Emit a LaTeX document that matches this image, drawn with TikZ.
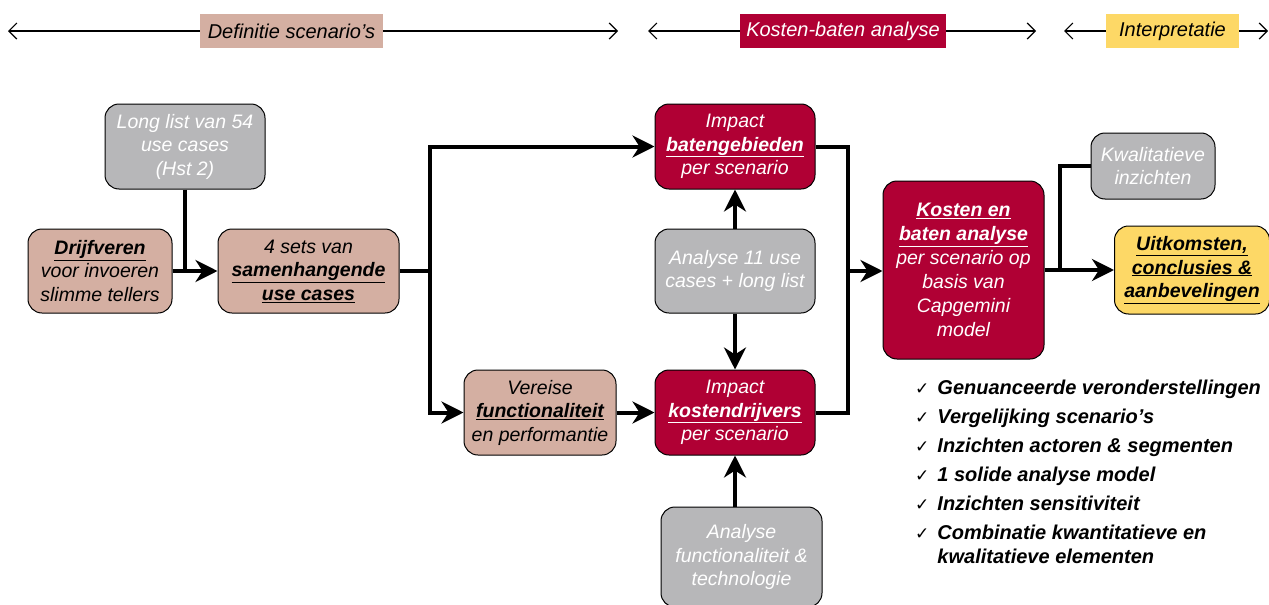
\documentclass[tikz,border=0pt]{standalone}
\usepackage{fontspec}
\setmainfont{Liberation Sans}
\newfontfamily\dejavu{DejaVu Sans}
\usetikzlibrary{arrows.meta}
\definecolor{mytan}{HTML}{D4AFA2}
\definecolor{mygray}{HTML}{B7B7B9}
\definecolor{myred}{HTML}{B00034}
\definecolor{myyellow}{HTML}{FDD866}
\newcommand\bu[1]{\underline{\textbf{#1}}}
\newcommand\ck{{\dejavu\mdseries\upshape\fontsize{17}{17}\selectfont ✓}}
\begin{document}
\begin{tikzpicture}[x=1pt,y=-1pt,
  box/.style={draw=black, line width=1pt, rounded corners=14pt, align=center, inner sep=0pt, font=\fontsize{19.5}{23.5}\selectfont\itshape},
  tanbox/.style={box, fill=mytan, text=black},
  graybox/.style={box, fill=mygray, text=white},
  redbox/.style={box, fill=myred, text=white},
  yellowbox/.style={box, fill=myyellow, text=black},
  conn/.style={line width=4pt, line join=miter},
  arr/.style={conn, -{Stealth[length=22pt,width=22pt,inset=7pt]}},
  hline/.style={line width=1.2pt, -{Straight Barb[length=8pt,width=16pt]}},
  hlabel/.style={inner sep=0pt, minimum height=34pt, font=\fontsize{20}{22}\selectfont\itshape}
]
\useasboundingbox (0,0) rectangle (1269,605);

% header
\coordinate (h1l) at (8,31);
\coordinate (h1r) at (618,31);
\coordinate (h2l) at (648,31);
\coordinate (h2r) at (1036,31);
\coordinate (h3l) at (1064,31);
\coordinate (h3r) at (1268,31);
\node[hlabel, fill=mytan, minimum width=183pt] (hd1) at (291.5,31) {Definitie scenario's};
\node[hlabel, fill=myred, text=white, minimum width=206pt] (hd2) at (843,31) {Kosten-baten analyse};
\node[hlabel, fill=myyellow, minimum width=133pt] (hd3) at (1172.5,31) {Interpretatie};
\draw[hline] (hd1.west) -- (h1l);
\draw[hline] (hd1.east) -- (h1r);
\draw[hline] (hd2.west) -- (h2l);
\draw[hline] (hd2.east) -- (h2r);
\draw[hline] (hd3.west) -- (h3l);
\draw[hline] (hd3.east) -- (h3r);

% boxes
\node[graybox, minimum width=160pt, minimum height=85pt] (longlist) at (185,146.5) {Long list van 54\\use cases\\(Hst 2)};
\node[tanbox, minimum width=144pt, minimum height=84pt] (drijf) at (100,271) {\bu{Drijfveren}\\voor invoeren\\slimme tellers};
\node[tanbox, minimum width=181pt, minimum height=84pt] (sets) at (308.5,271) {4 sets van\\\bu{samenhangende}\\\bu{use cases}};
\node[redbox, minimum width=160pt, minimum height=85pt] (baten) at (735,146.5) {Impact\\\bu{batengebieden}\\per scenario};
\node[graybox, minimum width=160pt, minimum height=84pt] (ana11) at (735,271) {Analyse 11 use\\cases + long list};
\node[tanbox, minimum width=152pt, minimum height=85pt] (vereise) at (540,412.5) {Vereise\\\bu{functionaliteit}\\en performantie};
\node[redbox, minimum width=160pt, minimum height=85pt] (kosten) at (735,412.5) {Impact\\\bu{kostendrijvers}\\per scenario};
\node[graybox, minimum width=161pt, minimum height=100pt] (anafunc) at (741.5,557) {Analyse\\functionaliteit \&\\technologie};
\node[redbox, minimum width=161pt, minimum height=178pt, font=\fontsize{19.5}{24}\selectfont\itshape] (kba) at (963.5,270) {\bu{Kosten en}\\\bu{baten analyse}\\per scenario op\\basis van\\Capgemini\\model};
\node[graybox, minimum width=124pt, minimum height=66pt] (kwal) at (1153,166) {Kwalitatieve\\inzichten};
\node[yellowbox, minimum width=155pt, minimum height=88pt] (uitk) at (1192,270) {\bu{Uitkomsten,}\\\bu{conclusies \&}\\\bu{aanbevelingen}};

% connectors
\coordinate (j1) at (430,271);
\coordinate (j2) at (848,271);
\coordinate (j3) at (1060,270);
\draw[conn] (longlist.south) -- (longlist.south |- drijf.east);
\draw[arr] (drijf.east) -- (sets.west);
\draw[conn] (sets.east) -- (j1);
\draw[arr] (j1) |- (baten.west);
\draw[arr] (j1) |- (vereise.west);
\draw[arr] (vereise.east) -- (kosten.west);
\draw[arr] (ana11.north) -- (baten.south);
\draw[arr] (ana11.south) -- (kosten.north);
\draw[arr] (kosten.south |- anafunc.north) -- (kosten.south);
\draw[conn] (baten.east) -| (j2);
\draw[conn] (kosten.east) -| (j2);
\draw[arr] (j2) -- (kba.west |- j2);
\draw[arr] (kba.east) -- (uitk.west);
\draw[conn] (j3) |- (kwal.west);

% checklist
\node[anchor=north west, inner sep=0pt, font=\fontsize{20}{24}\selectfont\bfseries\itshape, align=left] (checks) at (915,377) {%
\begin{tabular}{@{}l@{\hspace{8pt}}l@{}}
\ck & Genuanceerde veronderstellingen\\[5pt]
\ck & Vergelijking scenario's\\[5pt]
\ck & Inzichten actoren \& segmenten\\[5pt]
\ck & 1 solide analyse model\\[5pt]
\ck & Inzichten sensitiviteit\\[5pt]
\ck & Combinatie kwantitatieve en\\
 & kwalitatieve elementen
\end{tabular}};
\end{tikzpicture}
\end{document}
